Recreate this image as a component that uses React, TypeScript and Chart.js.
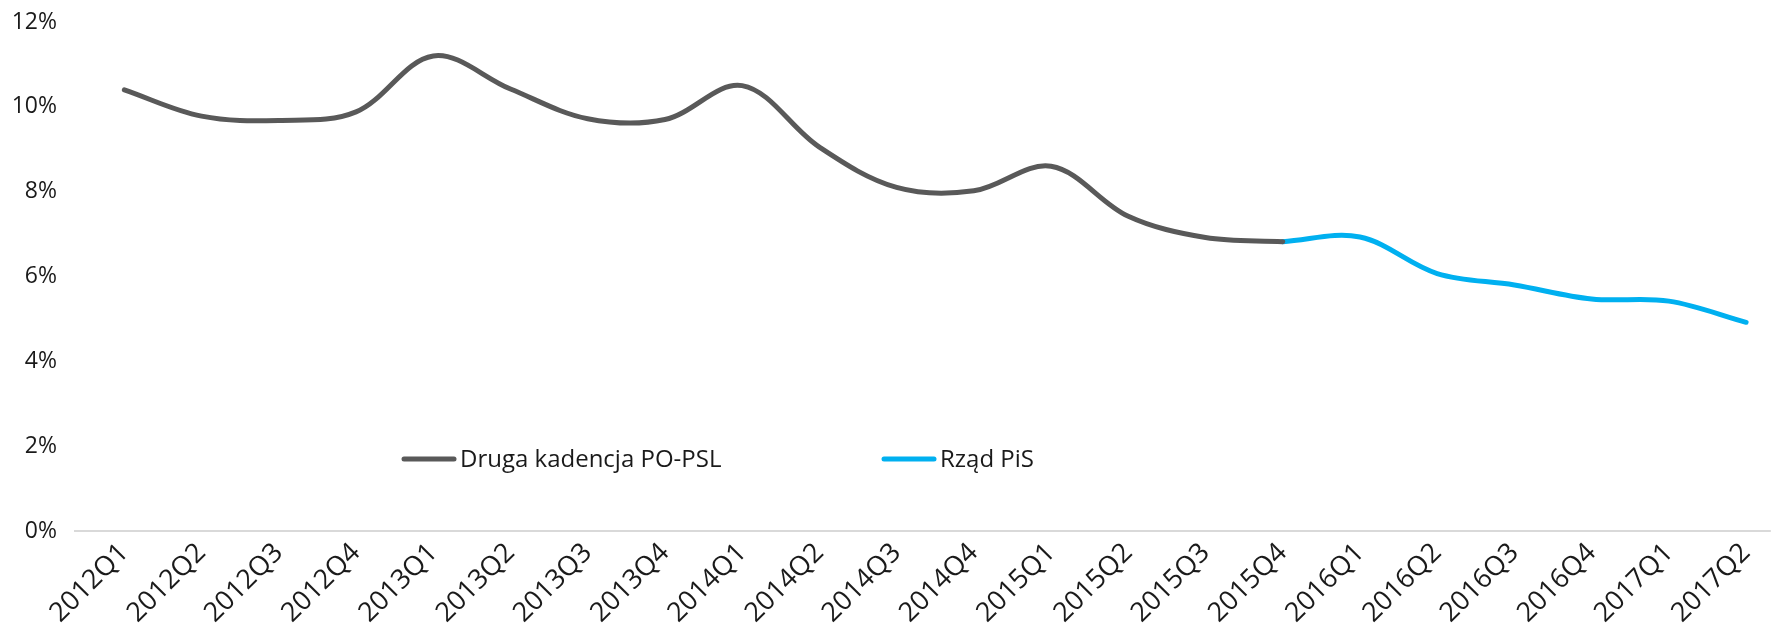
import React, { useEffect, useRef } from "react";
import { Chart, registerables } from "chart.js";

Chart.register(...registerables);

const quarters = [
  "2012Q1", "2012Q2", "2012Q3", "2012Q4",
  "2013Q1", "2013Q2", "2013Q3", "2013Q4",
  "2014Q1", "2014Q2", "2014Q3", "2014Q4",
  "2015Q1", "2015Q2", "2015Q3", "2015Q4",
  "2016Q1", "2016Q2", "2016Q3", "2016Q4",
  "2017Q1", "2017Q2",
];

const poPslLabel = "Druga kadencja PO-PSL";
const pisLabel = "Rząd PiS";

// 2012Q1 .. 2015Q4
const poPslValues = [
  10.4, 9.78, 9.68, 9.88,
  11.2, 10.42, 9.72, 9.7,
  10.5, 9.05, 8.1, 8.02,
  8.6, 7.42, 6.92, 6.82,
];

// 2015Q4 .. 2017Q2
const pisValues = [6.82, 6.93, 6.07, 5.8, 5.47, 5.42, 4.92];
const pisStartIndex = 15;

const yTickValues = [0, 2, 4, 6, 8, 10, 12];

const GRAY = "#595959";
const BLUE = "#00B0F0";
const TEXT = "#1a1a1a";
const FONT = "'Open Sans', 'Noto Sans', sans-serif";

const legendPlugin = {
  id: "customLegend",
  afterDraw(chart: any) {
    const ctx = chart.ctx;
    const items = [
      { label: poPslLabel, color: GRAY, x: 404 },
      { label: pisLabel, color: BLUE, x: 884 },
    ];
    const y = 459;
    ctx.save();
    ctx.lineWidth = 5;
    ctx.lineCap = "round";
    ctx.font = `24px ${FONT}`;
    ctx.textBaseline = "middle";
    ctx.textAlign = "left";
    ctx.fillStyle = TEXT;
    for (const it of items) {
      ctx.strokeStyle = it.color;
      ctx.beginPath();
      ctx.moveTo(it.x, y);
      ctx.lineTo(it.x + 50, y);
      ctx.stroke();
      ctx.fillText(it.label, it.x + 56, y + 1);
    }
    ctx.restore();
  },
};

export default function App() {
  const ref = useRef<HTMLCanvasElement | null>(null);

  useEffect(() => {
    document.body.style.margin = "0";
    document.body.style.overflow = "hidden";
    const canvas = ref.current;
    if (!canvas) return;

    const grayData = poPslValues.map((v, i) => ({ x: i, y: v }));
    const blueData = pisValues.map((v, i) => ({ x: pisStartIndex + i, y: v }));

    const chart = new Chart(canvas, {
      type: "line",
      data: {
        datasets: [
          {
            label: poPslLabel,
            data: grayData,
            borderColor: GRAY,
            borderWidth: 5,
            pointRadius: 0,
            tension: 0.35,
            borderCapStyle: "round",
            fill: false,
          },
          {
            label: pisLabel,
            data: blueData,
            borderColor: BLUE,
            borderWidth: 5,
            pointRadius: 0,
            tension: 0.35,
            borderCapStyle: "round",
            fill: false,
          },
        ],
      },
      options: {
        animation: false,
        responsive: false,
        maintainAspectRatio: false,
        layout: { padding: { top: 22, right: 0, left: 0, bottom: 0 } },
        plugins: {
          legend: { display: false },
          tooltip: { enabled: false },
        },
        scales: {
          x: {
            type: "linear",
            min: -0.652,
            max: 21.32,
            afterBuildTicks: (s: any) => {
              s.ticks = quarters.map((_, i) => ({ value: i }));
            },
            afterFit: (s: any) => {
              s.height = 101;
            },
            grid: { display: false, drawTicks: false },
            border: { display: false },
            ticks: {
              autoSkip: false,
              minRotation: 45,
              maxRotation: 45,
              padding: 6,
              color: TEXT,
              font: { family: FONT, size: 27 },
              callback: (v: any) => quarters[v] ?? "",
            },
          },
          y: {
            type: "linear",
            min: 0,
            max: 12,
            afterBuildTicks: (s: any) => {
              s.ticks = yTickValues.map((v) => ({ value: v }));
            },
            afterFit: (s: any) => {
              s.width = 74;
              s.paddingTop = 0;
              s.paddingBottom = 0;
            },
            grid: {
              drawTicks: false,
              lineWidth: 2,
              color: (c: any) => (c.tick && c.tick.value === 0 ? "#d9d9d9" : "rgba(0,0,0,0)"),
            },
            border: { display: false },
            ticks: {
              padding: 17,
              color: TEXT,
              font: { family: FONT, size: 23 },
              callback: (v: any) => `${v}%`,
            },
          },
        },
      },
      plugins: [legendPlugin],
    });

    return () => chart.destroy();
  }, []);

  return (
    <div style={{ width: 1775, height: 632, background: "#fff" }}>
      <canvas ref={ref} width={1775} height={632} />
    </div>
  );
}
